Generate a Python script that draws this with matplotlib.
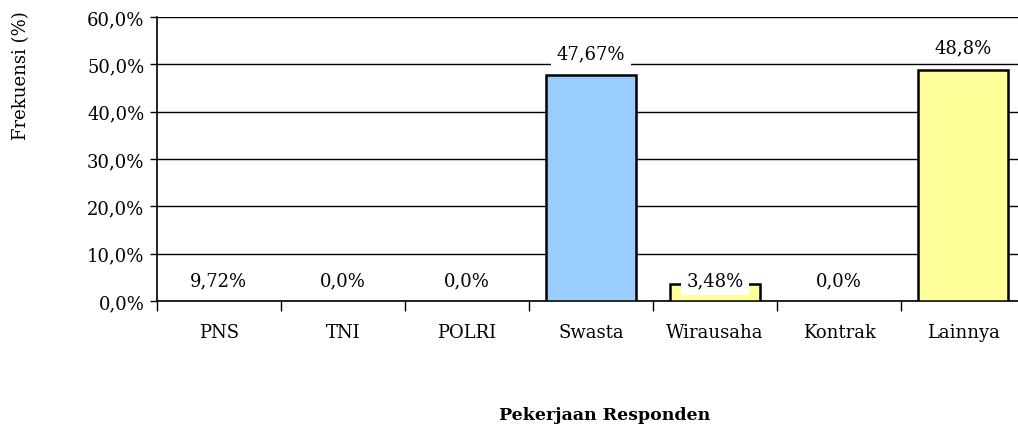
import numpy as np
import matplotlib.pyplot as plt
from matplotlib.ticker import FuncFormatter, FixedLocator

plt.rcParams['font.family'] = ['DejaVu Serif']

pekerjaan = ['PNS', 'TNI', 'POLRI', 'Swasta', 'Wirausaha', 'Kontrak', 'Lainnya']
frekuensi = [0.0, 0.0, 0.0, 47.67, 3.48, 0.0, 48.8]
label_teks = ['9,72%', '0,0%', '0,0%', '47,67%', '3,48%', '0,0%', '48,8%']
warna = ['#FFFF99', '#FFFF99', '#FFFF99', '#99CCFF', '#FFFF99', '#FFFF99', '#FFFF99']

fig = plt.figure(figsize=(10.18, 4.27), dpi=100)
# plot area runs past the right edge of the picture, as in the original
ax = fig.add_axes([0.154, 0.293, 0.853, 0.665])

x = np.arange(len(pekerjaan))
lebar_garis = [1.8 if v > 0 else 0 for v in frekuensi]
ax.bar(x, frekuensi, width=0.72, color=warna, edgecolor='black', linewidth=lebar_garis, zorder=3)

########label nilai########
for i, v in enumerate(frekuensi):
    ly = v + 4.7 if v > 10 else 4.4
    ax.text(x[i], ly, label_teks[i], ha='center', va='center', fontsize=13, zorder=4,
            bbox=dict(facecolor='white', edgecolor='none', pad=4))

ax.set_xlim(-0.5, len(pekerjaan) - 0.5)
ax.set_ylim(0, 60)
ax.set_yticks(np.arange(0, 61, 10))
ax.yaxis.set_major_formatter(FuncFormatter(lambda v, p: ('%.1f%%' % v).replace('.', ',')))
ax.yaxis.grid(True, color='black', linewidth=1.0, zorder=0)
ax.set_axisbelow(True)

ax.set_xticks(x)
ax.set_xticklabels(pekerjaan)
ax.xaxis.set_minor_locator(FixedLocator(np.arange(-0.5, len(pekerjaan), 1.0)))
ax.tick_params(axis='x', which='major', length=0, pad=16, labelsize=13)
ax.tick_params(axis='x', which='minor', length=7, width=1, direction='out')
ax.tick_params(axis='y', length=5, width=1, direction='out', labelsize=13, pad=4)

for s in ['top', 'right']:
    ax.spines[s].set_visible(False)
ax.spines['left'].set_linewidth(1.2)
ax.spines['bottom'].set_linewidth(1.2)

fig.text(0.021, 0.823, 'Frekuensi (%)', rotation=90, ha='center', va='center', fontsize=13)
fig.text(0.594, 0.028, 'Pekerjaan Responden', ha='center', va='center', fontsize=12.5, fontweight='bold')

plt.savefig('out.png', dpi=100)
